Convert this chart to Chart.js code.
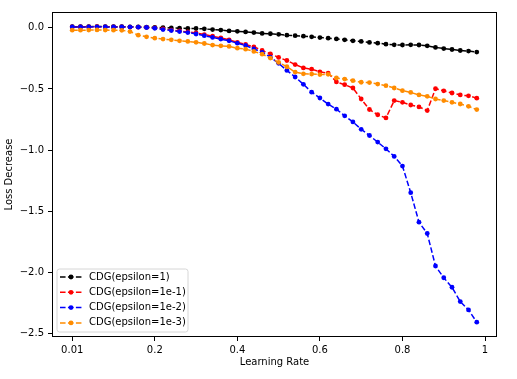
<!DOCTYPE html>
<html>
<head>
<meta charset="utf-8">
<script src="https://cdn.jsdelivr.net/npm/chart.js@4.4.1/dist/chart.umd.min.js"></script>
<style>
  html, body { margin: 0; padding: 0; background: #ffffff; }
  #c { display: block; }
</style>
</head>
<body>
<canvas id="c" width="517" height="379" style="width:517px;height:379px"></canvas>
<script>
// ---- data ----
const steps = [0,1,2,3,4,5,6,7,8,9,10,11,12,13,14,15,16,17,18,19,20,21,22,23,24,25,26,27,28,29,30,31,32,33,34,35,36,37,38,39,40,41,42,43,44,45,46,47,48,49];
const xTickPositions = [0, 10, 20, 30, 40, 50];
const xTickLabels = ['0.01', '0.2', '0.4', '0.6', '0.8', '1'];
const yTickValues = [0, -0.5, -1, -1.5, -2, -2.5];
const yTickLabels = ['0.0', '\u22120.5', '\u22121.0', '\u22121.5', '\u22122.0', '\u22122.5'];
const seriesLabels = ['CDG(epsilon=1)', 'CDG(epsilon=1e-1)', 'CDG(epsilon=1e-2)', 'CDG(epsilon=1e-3)'];

const eps1 = [0.010,0.010,0.010,0.011,0.010,0.010,0.010,0.009,0.008,0.006,
  0.004,0.002,-0.001,-0.002,-0.005,-0.005,-0.008,-0.014,-0.018,-0.025,
  -0.028,-0.033,-0.038,-0.045,-0.048,-0.053,-0.060,-0.064,-0.068,-0.073,
  -0.079,-0.084,-0.090,-0.098,-0.106,-0.111,-0.119,-0.125,-0.133,-0.139,
  -0.140,-0.139,-0.140,-0.147,-0.160,-0.169,-0.177,-0.185,-0.190,-0.198];
const eps1e1 = [0.008,0.008,0.009,0.010,0.009,0.008,0.008,0.007,0.006,0.004,
  0.000,-0.008,-0.018,-0.025,-0.033,-0.042,-0.055,-0.068,-0.082,-0.098,
  -0.118,-0.135,-0.155,-0.185,-0.212,-0.242,-0.267,-0.300,-0.328,-0.338,
  -0.360,-0.370,-0.442,-0.465,-0.492,-0.582,-0.668,-0.711,-0.737,-0.595,
  -0.609,-0.631,-0.647,-0.677,-0.498,-0.515,-0.533,-0.549,-0.556,-0.575];
const eps1e2 = [0.008,0.008,0.008,0.009,0.008,0.008,0.008,0.007,0.006,0.003,
  -0.003,-0.014,-0.022,-0.030,-0.038,-0.050,-0.064,-0.078,-0.092,-0.106,
  -0.125,-0.144,-0.172,-0.200,-0.240,-0.290,-0.348,-0.402,-0.462,-0.526,
  -0.574,-0.624,-0.665,-0.720,-0.770,-0.830,-0.881,-0.935,-0.990,-1.052,
  -1.131,-1.349,-1.590,-1.683,-1.949,-2.045,-2.123,-2.240,-2.308,-2.409];
const eps1e3 = [-0.019,-0.019,-0.018,-0.017,-0.018,-0.019,-0.020,-0.030,-0.060,-0.073,
  -0.084,-0.092,-0.098,-0.106,-0.111,-0.118,-0.128,-0.141,-0.147,-0.152,
  -0.166,-0.174,-0.193,-0.215,-0.247,-0.283,-0.318,-0.362,-0.376,-0.378,
  -0.382,-0.380,-0.410,-0.419,-0.432,-0.445,-0.448,-0.460,-0.473,-0.492,
  -0.514,-0.528,-0.549,-0.560,-0.582,-0.595,-0.609,-0.623,-0.642,-0.669];

const colors = ['#000000', '#ff0000', '#0000ff', '#ff8c00'];
const allSeries = [eps1, eps1e1, eps1e2, eps1e3];

const FONT = "'DejaVu Sans', sans-serif";
const DASH = [5.55, 2.4];

const datasets = allSeries.map((vals, i) => ({
  label: seriesLabels[i],
  data: vals,
  borderColor: colors[i],
  backgroundColor: colors[i],
  borderWidth: 1.5,
  borderDash: DASH,
  pointRadius: 2.4,
  pointBorderWidth: 0,
  pointBackgroundColor: colors[i],
  pointHoverRadius: 2.4,
  fill: false,
  tension: 0,
  order: allSeries.length - i
}));

const framePlugin = {
  id: 'frame',
  afterDraw(chart) {
    const ctx = chart.ctx, a = chart.chartArea;
    ctx.save();
    ctx.strokeStyle = '#000000';
    ctx.lineWidth = 1;
    const l = Math.round(a.left) + 0.5, t = Math.round(a.top) + 0.5;
    const r = Math.round(a.right) - 0.5, b = Math.round(a.bottom) - 0.5;
    ctx.strokeRect(l, t, r - l, b - t);
    ctx.restore();
  }
};

const legendPlugin = {
  id: 'mplLegend',
  afterDraw(chart) {
    const ctx = chart.ctx, a = chart.chartArea;
    const ds = chart.data.datasets;
    const boxW = 131, boxH = 63, rowH = 15.3;
    const x0 = a.left + 5, y0 = a.bottom - 5 - boxH;
    ctx.save();
    ctx.beginPath();
    const rad = 2.5;
    ctx.moveTo(x0 + rad, y0);
    ctx.lineTo(x0 + boxW - rad, y0);
    ctx.arcTo(x0 + boxW, y0, x0 + boxW, y0 + rad, rad);
    ctx.lineTo(x0 + boxW, y0 + boxH - rad);
    ctx.arcTo(x0 + boxW, y0 + boxH, x0 + boxW - rad, y0 + boxH, rad);
    ctx.lineTo(x0 + rad, y0 + boxH);
    ctx.arcTo(x0, y0 + boxH, x0, y0 + boxH - rad, rad);
    ctx.lineTo(x0, y0 + rad);
    ctx.arcTo(x0, y0, x0 + rad, y0, rad);
    ctx.closePath();
    ctx.fillStyle = 'rgba(255,255,255,0.8)';
    ctx.fill();
    ctx.strokeStyle = '#d6d6d6';
    ctx.lineWidth = 1;
    ctx.stroke();
    ds.forEach((d, i) => {
      const cy = y0 + 8 + i * rowH;
      ctx.beginPath();
      ctx.setLineDash(DASH);
      ctx.strokeStyle = d.borderColor;
      ctx.lineWidth = 1.5;
      ctx.moveTo(x0 + 3, cy);
      ctx.lineTo(x0 + 25, cy);
      ctx.stroke();
      ctx.setLineDash([]);
      ctx.beginPath();
      ctx.fillStyle = d.borderColor;
      ctx.arc(x0 + 14, cy, 2.4, 0, Math.PI * 2);
      ctx.fill();
      ctx.fillStyle = '#000000';
      ctx.font = '10px ' + FONT;
      ctx.textBaseline = 'middle';
      ctx.textAlign = 'left';
      ctx.fillText(d.label, x0 + 32, cy);
    });
    ctx.restore();
  }
};

new Chart(document.getElementById('c'), {
  type: 'line',
  data: { labels: steps, datasets },
  plugins: [framePlugin, legendPlugin],
  options: {
    responsive: false,
    animation: false,
    devicePixelRatio: 1,
    layout: { padding: { left: 0, right: 20, top: 12, bottom: 0 } },
    plugins: { legend: { display: false }, tooltip: { enabled: false } },
    scales: {
      x: {
        type: 'linear',
        min: -2.45,
        max: 51.45,
        afterFit(scale) { scale.height = 42; },
        afterBuildTicks(scale) { scale.ticks = xTickPositions.map(v => ({ value: v })); },
        grid: { display: true, drawOnChartArea: false, drawTicks: true, tickLength: 4, color: '#000000', tickColor: '#000000', lineWidth: 1 },
        border: { display: false },
        ticks: {
          autoSkip: false, maxRotation: 0, padding: 3, color: '#000000',
          font: { family: FONT, size: 10 },
          callback(v) { const k = xTickPositions.indexOf(v); return k >= 0 ? xTickLabels[k] : ''; }
        },
        title: { display: true, text: 'Learning Rate', color: '#000000', font: { family: FONT, size: 10 }, padding: { top: 0, bottom: 11 } }
      },
      y: {
        type: 'linear',
        min: -2.53,
        max: 0.13,
        afterFit(scale) { scale.width = 52; },
        afterBuildTicks(scale) { scale.ticks = yTickValues.map(v => ({ value: v })); },
        grid: { display: true, drawOnChartArea: false, drawTicks: true, tickLength: 4, color: '#000000', tickColor: '#000000', lineWidth: 1 },
        border: { display: false },
        ticks: {
          autoSkip: false, padding: 4, color: '#000000',
          font: { family: FONT, size: 10 },
          callback(v) { const k = yTickValues.indexOf(v); return k >= 0 ? yTickLabels[k] : ''; }
        },
        title: { display: true, text: 'Loss Decrease', color: '#000000', font: { family: FONT, size: 10 }, padding: { top: 3.5, bottom: 0 } }
      }
    }
  }
});
</script>
</body>
</html>
